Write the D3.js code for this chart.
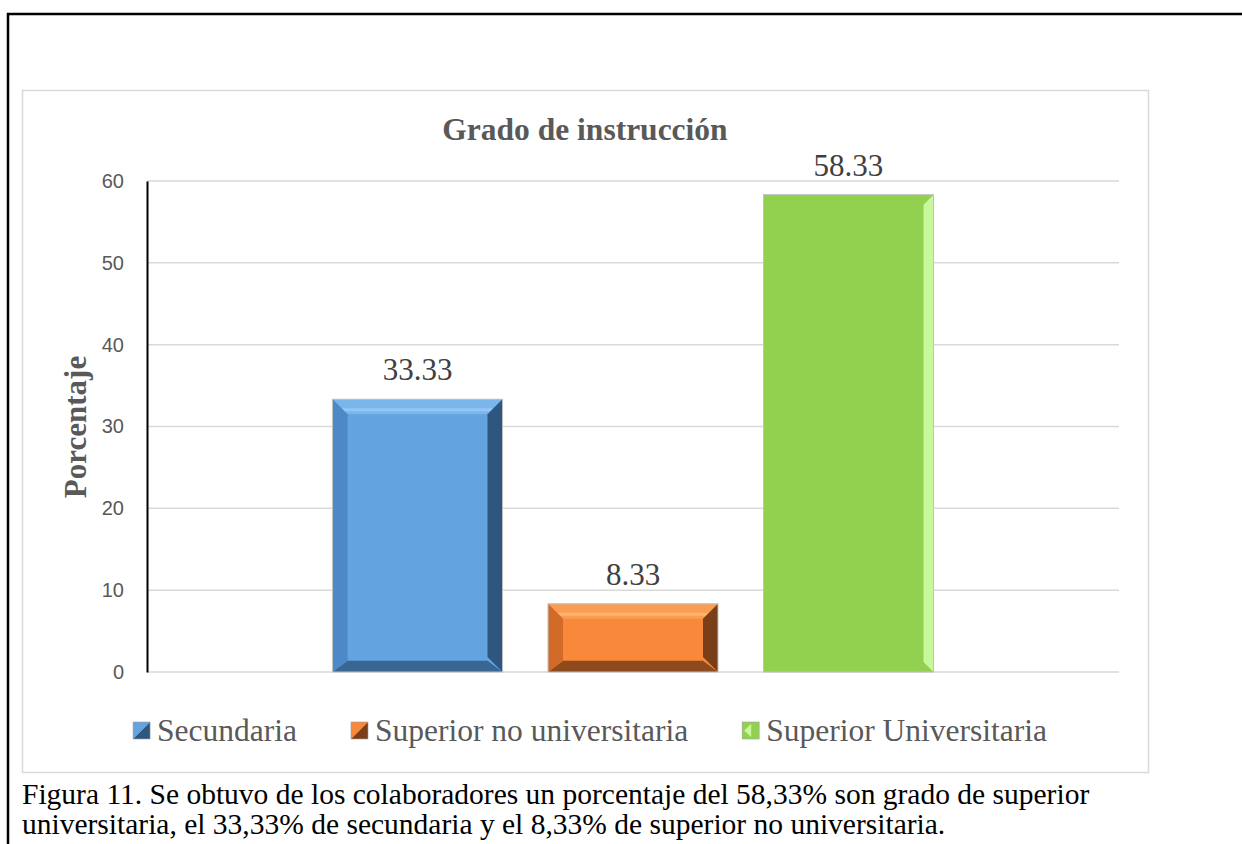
<!DOCTYPE html>
<html>
<head>
<meta charset="utf-8">
<script src="https://cdn.jsdelivr.net/npm/d3@7"></script>
<style>
  html, body { margin:0; padding:0; background:#fff; }
  svg { display:block; }
</style>
</head>
<body>
<svg id="chart" width="1242" height="844"></svg>
<script>
// data
const categories = ['Secundaria', 'Superior no universitaria', 'Superior Universitaria'];
const values = [33.33, 8.33, 58.33];
const yTicks = [0, 10, 20, 30, 40, 50, 60];
const title = 'Grado de instrucción';
const yTitle = 'Porcentaje';
const caption = [
  'Figura 11. Se obtuvo de los colaboradores un porcentaje del 58,33% son grado de superior',
  'universitaria, el 33,33% de secundaria y el 8,33% de superior no universitaria.'
];

// bevel palettes: main, top, left, right, bottom
const palette = [
  { main:'#62a3e0', top:'#7ab6ec', hi:'#92c6f6', left:'#4d89c6', right:'#2f567e', bottom:'#3a6692', bevel:15 },
  { main:'#f8883a', top:'#fa9d52', hi:'#fdb46e', left:'#d26b2a', right:'#7a3f18', bottom:'#8c4a1d', bevel:15 },
  { main:'#92d050', right:'#c8f89c', bevel:10 }
];

const width = 1242, height = 844;
const margin = { left:147, right:1119, top:181, bottom:672 };
const serif = '"Liberation Serif", "Times New Roman", serif';
const sans = '"Liberation Sans", Arial, sans-serif';

const svg = d3.select('#chart');

// outer page frame (black, open to the right)
svg.append('path')
  .attr('d', `M${width+5},14 H8 V${height+5}`)
  .attr('fill','none').attr('stroke','#000').attr('stroke-width',2.5);

// chart area frame
svg.append('rect')
  .attr('x',22.5).attr('y',90.5).attr('width',1126).attr('height',682)
  .attr('fill','#fff').attr('stroke','#d9d9d9').attr('stroke-width',1.5);

const y = d3.scaleLinear().domain([0,60]).range([margin.bottom, margin.top]);
const x = d3.scaleBand().domain(categories)
  .range([margin.left, margin.right])
  .paddingInner(0.211).paddingOuter(0.861);

// gridlines
svg.append('g').selectAll('line').data(yTicks).join('line')
  .attr('x1', margin.left).attr('x2', margin.right)
  .attr('y1', d => y(d)).attr('y2', d => y(d))
  .attr('stroke','#d9d9d9').attr('stroke-width',1.5);

// y axis
const yAxis = svg.append('g')
  .attr('transform', `translate(${margin.left},0)`)
  .call(d3.axisLeft(y).tickValues(yTicks).tickSize(0).tickPadding(23));
yAxis.attr('font-family', sans).attr('font-size', 20);
yAxis.select('.domain').attr('stroke','#000').attr('stroke-width',2);
yAxis.selectAll('text').attr('fill','#595959');

// bars with bevel
function poly(pts) { return 'M' + pts.map(p => p.join(',')).join('L') + 'Z'; }

const bars = svg.append('g');
categories.forEach((c, i) => {
  const p = palette[i];
  const x0 = x(c), x1 = x(c) + x.bandwidth();
  const y0 = y(values[i]), y1 = y(0);
  const b = p.bevel;
  const g = bars.append('g');
  g.append('rect').attr('x',x0).attr('y',y0).attr('width',x1-x0).attr('height',y1-y0)
    .attr('fill',p.main);
  if (p.top) {
    g.append('path').attr('d', poly([[x0,y0],[x1,y0],[x1-b,y0+b],[x0+b,y0+b]])).attr('fill',p.top);
    g.append('path').attr('d', poly([[x0+b*0.6,y0+b*0.6],[x1-b*0.6,y0+b*0.6],[x1-b*0.8,y0+b*0.8],[x0+b*0.8,y0+b*0.8]])).attr('fill',p.hi);
    g.append('path').attr('d', poly([[x0,y1],[x1,y1],[x1-b,y1-b*0.75],[x0+b,y1-b*0.75]])).attr('fill',p.bottom);
    g.append('path').attr('d', poly([[x0,y0],[x0+b,y0+b],[x0+b,y1-b*0.75],[x0,y1]])).attr('fill',p.left);
  }
  g.append('path').attr('d', poly([[x1,y0],[x1-b,y0+b],[x1-b,y1-b],[x1,y1]])).attr('fill',p.right);
  g.append('rect').attr('x',x0).attr('y',y0).attr('width',x1-x0).attr('height',y1-y0)
    .attr('fill','none').attr('stroke','#c0c0c0').attr('stroke-width',1);
});

// data labels
svg.append('g').selectAll('text').data(categories).join('text')
  .attr('x', d => x(d) + x.bandwidth()/2)
  .attr('y', (d,i) => y(values[i]) - 19)
  .attr('text-anchor','middle')
  .attr('font-family', serif).attr('font-size', 31).attr('fill','#404040')
  .text((d,i) => values[i].toFixed(2));

// title
svg.append('text')
  .attr('x', 585).attr('y', 140).attr('text-anchor','middle')
  .attr('font-family', serif).attr('font-size', 31.5).attr('font-weight','bold')
  .attr('fill','#595959').text(title);

// y axis title
svg.append('text')
  .attr('transform','translate(86,427) rotate(-90)')
  .attr('text-anchor','middle')
  .attr('font-family', serif).attr('font-size', 31).attr('font-weight','bold')
  .attr('fill','#595959').text(yTitle);

// legend
const legend = svg.append('g');
const items = categories.map((c, i) => {
  const g = legend.append('g');
  const t = g.append('text').attr('x', 24).attr('y', 0)
    .attr('font-family', serif).attr('font-size', 31.5).attr('fill','#595959').text(c);
  return { g, w: 24 + t.node().getComputedTextLength(), i };
});
const gap = 54;
const total = d3.sum(items, d => d.w) + gap * (items.length - 1);
let lx = 590 - total / 2;
items.forEach(({ g, w, i }) => {
  g.attr('transform', `translate(${lx},741)`);
  const p = palette[i], s = 17, top = -19;
  if (p.top) {
    g.append('path').attr('d', poly([[0,top],[s,top],[0,top+s]])).attr('fill',p.main);
    g.append('path').attr('d', poly([[s,top],[s,top+s],[0,top+s]])).attr('fill',p.right);
  } else {
    g.append('rect').attr('x',0).attr('y',top).attr('width',s).attr('height',s).attr('fill',p.main);
    g.append('path').attr('d', poly([[2,top+s/2],[9,top+2],[9,top+s-2]])).attr('fill',p.right);
  }
  g.append('rect').attr('x',0).attr('y',top).attr('width',s).attr('height',s)
    .attr('fill','none').attr('stroke','#a0a0a0').attr('stroke-width',0.6);
  lx += w + gap;
});

// caption
svg.append('g').selectAll('text').data(caption).join('text')
  .attr('x', 22).attr('y', (d,i) => 804 + i * 30)
  .attr('font-family', serif).attr('font-size', 29.5).attr('fill','#000')
  .text(d => d);
</script>
</body>
</html>
